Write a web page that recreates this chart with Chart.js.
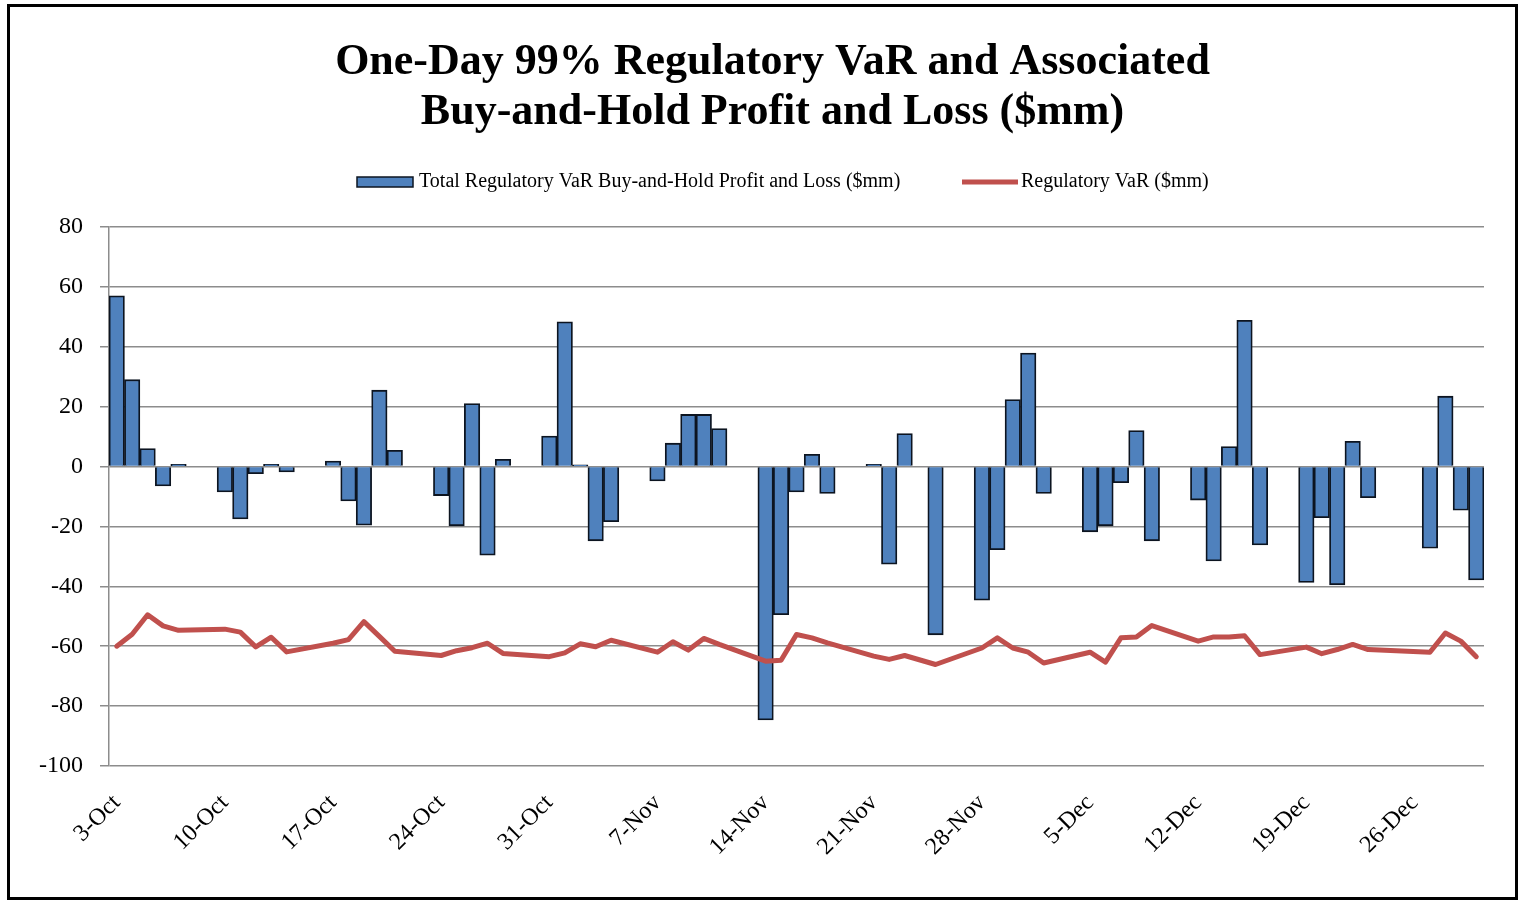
<!DOCTYPE html>
<html>
<head>
<meta charset="utf-8">
<script src="https://cdn.jsdelivr.net/npm/chart.js@4.4.1/dist/chart.umd.min.js"></script>
<style>
  html, body { margin: 0; padding: 0; background: #fff; }
  #frame {
    position: absolute; left: 7px; top: 4px;
    width: 1511px; height: 896px;
    border: 3px solid #000; box-sizing: border-box;
  }
  #chart { display: block; }
</style>
</head>
<body>
<div id="frame"><canvas id="chart" width="1505" height="890"></canvas></div>
<script>
// calendar days, 3-Oct to 30-Dec (weekends / holidays are null in the series)
const days = [
  '3-Oct','4-Oct','5-Oct','6-Oct','7-Oct','8-Oct','9-Oct',
  '10-Oct','11-Oct','12-Oct','13-Oct','14-Oct','15-Oct','16-Oct',
  '17-Oct','18-Oct','19-Oct','20-Oct','21-Oct','22-Oct','23-Oct',
  '24-Oct','25-Oct','26-Oct','27-Oct','28-Oct','29-Oct','30-Oct',
  '31-Oct','1-Nov','2-Nov','3-Nov','4-Nov','5-Nov','6-Nov',
  '7-Nov','8-Nov','9-Nov','10-Nov','11-Nov','12-Nov','13-Nov',
  '14-Nov','15-Nov','16-Nov','17-Nov','18-Nov','19-Nov','20-Nov',
  '21-Nov','22-Nov','23-Nov','24-Nov','25-Nov','26-Nov','27-Nov',
  '28-Nov','29-Nov','30-Nov','1-Dec','2-Dec','3-Dec','4-Dec',
  '5-Dec','6-Dec','7-Dec','8-Dec','9-Dec','10-Dec','11-Dec',
  '12-Dec','13-Dec','14-Dec','15-Dec','16-Dec','17-Dec','18-Dec',
  '19-Dec','20-Dec','21-Dec','22-Dec','23-Dec','24-Dec','25-Dec',
  '26-Dec','27-Dec','28-Dec','29-Dec','30-Dec'
];

const pnl = [
  57, 29, 6, -6.5, 0.7, null, null,
  -8.5, -17.5, -2.4, 0.7, -1.8, null, null,
  1.8, -11.5, -19.6, 25.5, 5.4, null, null,
  -9.7, -19.8, 21, -29.6, 2.4, null, null,
  10.2, 48.3, 0.6, -24.8, -18.4, null, null,
  -4.8, 7.8, 17.4, 17.4, 12.7, null, null,
  -84.6, -49.5, -8.5, 4.1, -9, null, null,
  0.7, -32.6, 11, null, -56.2, null, null,
  -44.6, -27.8, 22.4, 37.9, -9, null, null,
  -21.8, -19.8, -5.4, 12, -24.8, null, null,
  -11.2, -31.5, 6.7, 48.8, -26.2, null, null,
  -38.7, -17.1, -39.5, 8.4, -10.4, null, null,
  null, -27.3, 23.5, -14.6, -37.9
];

const regVar = [
  -60, -56, -49.5, -53.2, -54.7, null, null,
  -54.3, -55.3, -60.2, -57, -61.9, null, null,
  -59, -57.8, -51.8, -56.7, -61.7, null, null,
  -63.1, -61.5, -60.5, -59, -62.4, null, null,
  -63.5, -62.2, -59.2, -60.2, -58, null, null,
  -62, -58.5, -61.3, -57.4, -59.4, null, null,
  -65, -64.7, -56.1, -57.2, -58.9, null, null,
  -63.3, -64.4, -63.1, null, -66.1, null, null,
  -60.6, -57.2, -60.6, -62, -65.6, null, null,
  -62, -65.3, -57.2, -56.9, -53.1, null, null,
  -58.3, -56.9, -56.9, -56.5, -62.8, null, null,
  -60.3, -62.5, -61.1, -59.4, -61.1, null, null,
  null, -62, -55.6, -58.3, -63.5
];

const seriesNames = [
  'Total Regulatory VaR Buy-and-Hold Profit and Loss ($mm)',
  'Regulatory VaR ($mm)'
];
const titleLines = [
  'One-Day 99% Regulatory VaR and Associated',
  'Buy-and-Hold Profit and Loss ($mm)'
];

const barColor = '#4F81BD';
const barEdge = '#0c1420';
const lineColor = '#C0504D';
const gridColor = '#8c8c8c';
const serif = '"Liberation Serif", "Times New Roman", serif';

// legend drawn between title and plot, like the Excel original
const topLegend = {
  id: 'topLegend',
  afterDraw(chart) {
    const ctx = chart.ctx;
    const y = 175;
    ctx.save();
    ctx.font = '20px ' + serif;
    ctx.textBaseline = 'middle';
    ctx.textAlign = 'left';

    ctx.fillStyle = barColor;
    ctx.fillRect(347, 170, 56, 10);
    ctx.strokeStyle = barEdge;
    ctx.lineWidth = 1.5;
    ctx.strokeRect(347, 170, 56, 10);
    ctx.fillStyle = '#000';
    ctx.fillText(seriesNames[0], 409, y);

    ctx.strokeStyle = lineColor;
    ctx.lineWidth = 5;
    ctx.beginPath();
    ctx.moveTo(952, y);
    ctx.lineTo(1008, y);
    ctx.stroke();
    ctx.fillStyle = '#000';
    ctx.fillText(seriesNames[1], 1011, y);
    ctx.restore();
  }
};

new Chart(document.getElementById('chart'), {
  type: 'bar',
  data: {
    labels: days,
    datasets: [
      {
        type: 'line',
        label: seriesNames[1],
        data: regVar,
        borderColor: lineColor,
        borderWidth: 5,
        pointRadius: 0,
        tension: 0,
        spanGaps: true,
        borderJoinStyle: 'round',
        borderCapStyle: 'round',
        order: 1
      },
      {
        label: seriesNames[0],
        data: pnl,
        backgroundColor: barColor,
        borderColor: barEdge,
        borderWidth: 1.8,
        barPercentage: 1,
        categoryPercentage: 1,
        order: 2
      }
    ]
  },
  options: {
    responsive: false,
    animation: false,
    layout: { padding: { top: 31, left: 20, right: 0, bottom: 0 } },
    plugins: {
      legend: { display: false },
      tooltip: { enabled: false },
      title: {
        display: true,
        text: titleLines,
        color: '#000',
        font: { family: serif, size: 44, weight: 'bold', lineHeight: 1.136 },
        padding: { top: 0, bottom: 89 }
      }
    },
    scales: {
      x: {
        grid: { display: false, drawTicks: false },
        border: { display: false },
        ticks: {
          autoSkip: false,
          maxRotation: 45,
          minRotation: 45,
          padding: 23,
          color: '#000',
          font: { family: serif, size: 24 },
          callback: function(val, i) { return i % 7 === 0 ? days[i] : ''; }
        },
        afterFit: function(scale) {
          scale.height = 131;
          scale.paddingLeft = 0;
          scale.paddingRight = 31;
        }
      },
      y: {
        min: -100,
        max: 80,
        ticks: {
          stepSize: 20,
          padding: 17,
          color: '#000',
          font: { family: serif, size: 24 }
        },
        grid: { color: gridColor, lineWidth: 1.5, tickLength: 9 },
        border: { display: true, color: gridColor, width: 1.5 },
        afterFit: function(scale) { scale.width = 79; }
      }
    }
  },
  plugins: [topLegend]
});
</script>
</body>
</html>
